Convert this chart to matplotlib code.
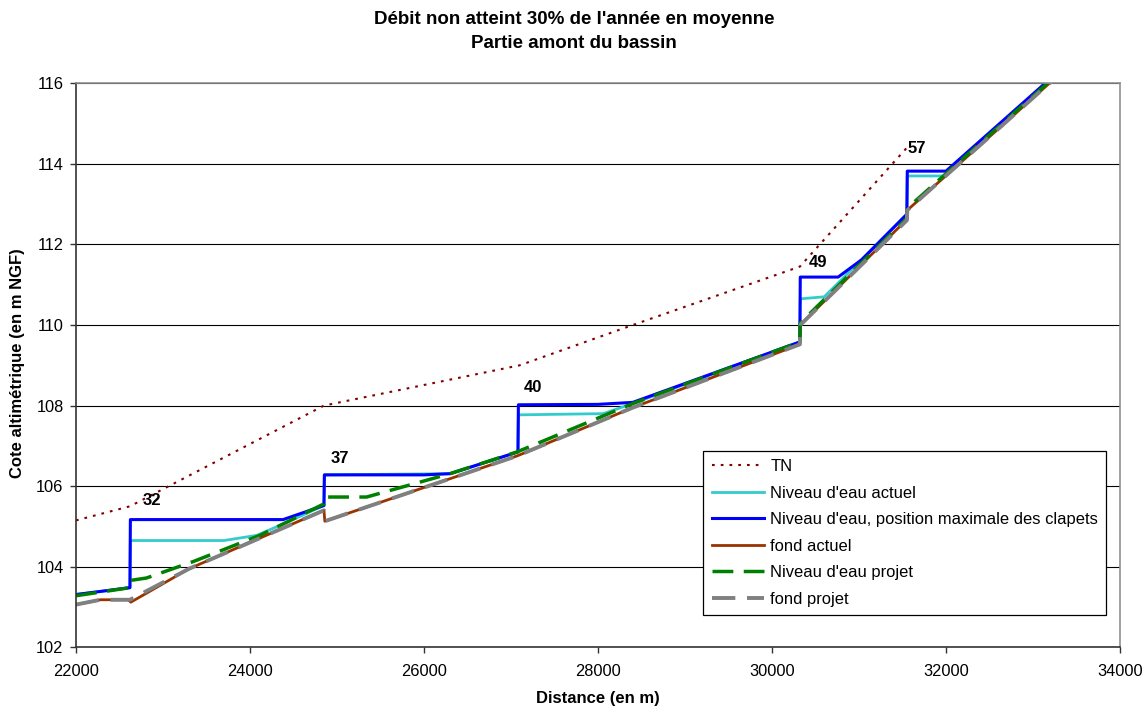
import matplotlib
matplotlib.use("Agg")
import matplotlib.pyplot as plt

plt.rcParams['font.family'] = ['Liberation Sans', 'DejaVu Sans']

# Distances (m) and elevations (m NGF) of each profile
tn_x = [22000, 22620, 24850, 27100, 28400, 30320, 31550]
tn_y = [105.15, 105.50, 108.00, 109.00, 110.00, 111.45, 114.40]

eau_actuel_x = [22000, 22620, 22625, 23700, 24080, 24400, 24850, 24855, 26300, 27080, 27085,
                28060, 28400, 30320, 30325, 30600, 31030, 31550, 31555, 31970, 33400]
eau_actuel_y = [103.31, 103.48, 104.65, 104.65, 104.78, 105.08, 105.52, 106.28, 106.31, 106.85, 107.77,
                107.80, 108.05, 109.58, 110.65, 110.70, 111.62, 112.75, 113.70, 113.70, 116.50]

eau_max_x = [22000, 22620, 22625, 24380, 24850, 24855, 26000, 26300, 27080, 27085, 28000,
             28400, 30320, 30325, 30760, 31030, 31550, 31555, 32000, 33400]
eau_max_y = [103.31, 103.48, 105.17, 105.17, 105.52, 106.28, 106.28, 106.31, 106.85, 108.02, 108.03,
             108.08, 109.58, 111.19, 111.19, 111.62, 112.75, 113.82, 113.82, 116.50]

fond_actuel_x = [22000, 22280, 22600, 22630, 23300, 24850, 24860, 27070, 28400, 30320, 30325,
                 31550, 31555, 33400]
fond_actuel_y = [103.06, 103.18, 103.18, 103.12, 103.95, 105.40, 105.13, 106.75, 107.95, 109.52, 110.00,
                 112.62, 112.85, 116.41]

eau_projet_x = [22000, 22620, 22625, 22810, 23350, 24115, 24850, 24855, 25340, 26300, 27070,
                28400, 30320, 30325, 31550, 31555, 33400]
eau_projet_y = [103.28, 103.48, 103.66, 103.72, 104.13, 104.78, 105.56, 105.73, 105.73, 106.31, 106.85,
                108.05, 109.58, 110.05, 112.65, 112.90, 116.45]

fond_projet_x = [22000, 22280, 22620, 23300, 24850, 24860, 27070, 28400, 30320, 30325,
                 31550, 31555, 33400]
fond_projet_y = [103.06, 103.18, 103.18, 103.95, 105.40, 105.13, 106.75, 107.95, 109.52, 110.00,
                 112.60, 112.85, 116.41]

labels = ["32", "37", "40", "49", "57"]
label_x = [22877, 25033, 27253, 30533, 31663]
label_y = [105.65, 106.68, 108.44, 111.55, 114.39]

series_names = ["TN", "Niveau d'eau actuel", "Niveau d'eau, position maximale des clapets",
                "fond actuel", "Niveau d'eau projet", "fond projet"]

fig = plt.figure(figsize=(11.44, 7.06), dpi=100)
ax = fig.add_axes([76 / 1144, 1 - 647.3 / 706, (1120 - 76) / 1144, (647.3 - 83.3) / 706])

ax.plot(tn_x, tn_y, color='#800000', lw=1.5, linestyle=(0, (1.3, 2.9)), label=series_names[0])
ax.plot(eau_actuel_x, eau_actuel_y, color='#33CCCC', lw=2.0, label=series_names[1])
ax.plot(eau_max_x, eau_max_y, color='#0000FF', lw=2.2, label=series_names[2])
ax.plot(fond_actuel_x, fond_actuel_y, color='#993300', lw=2.0, label=series_names[3])
ax.plot(eau_projet_x, eau_projet_y, color='#008000', lw=2.5, linestyle=(0, (6, 3)),
        label=series_names[4])
ax.plot(fond_projet_x, fond_projet_y, color='#808080', lw=2.8, linestyle=(0, (6, 3)),
        label=series_names[5])

for t, x, y in zip(labels, label_x, label_y):
    ax.text(x, y, t, fontsize=12, fontweight='bold', ha='center', va='center')

ax.set_xlim(22000, 34000)
ax.set_ylim(102, 116)
ax.set_xticks(range(22000, 34001, 2000))
ax.set_yticks(range(102, 117, 2))
ax.yaxis.grid(True, color='black', lw=0.8)
ax.set_axisbelow(True)
ax.tick_params(direction='out', length=4, width=1, labelsize=11.8, pad=5, color='#333333')
ax.tick_params(axis='x', pad=8)
for side in ('left', 'bottom'):
    ax.spines[side].set_color('#333333')
    ax.spines[side].set_linewidth(1.2)
for side in ('top', 'right'):
    ax.spines[side].set_color('#909090')
    ax.spines[side].set_linewidth(1.2)

leg = ax.legend(loc='upper left', bbox_to_anchor=(0.6009, 0.3486), borderaxespad=0,
                fontsize=11.9, frameon=True, fancybox=False, edgecolor='black',
                handlelength=3.2, handletextpad=0.35, labelspacing=0.7,
                borderpad=0.5, framealpha=1)
leg.get_frame().set_linewidth(0.9)

fig.text(0.502, 1 - 19 / 706, "Débit non atteint 30% de l'année en moyenne",
         ha='center', va='center', fontsize=13.5, fontweight='bold')
fig.text(0.502, 1 - 43 / 706, "Partie amont du bassin",
         ha='center', va='center', fontsize=13.5, fontweight='bold')
fig.text(598 / 1144, 1 - 698 / 706, "Distance (en m)", ha='center', va='center',
         fontsize=12, fontweight='bold')
fig.text(18 / 1144, 1 - 363 / 706, "Cote altimétrique (en m NGF)", ha='center', va='center',
         rotation=90, fontsize=12, fontweight='bold')

fig.savefig("out.png", dpi=100)
